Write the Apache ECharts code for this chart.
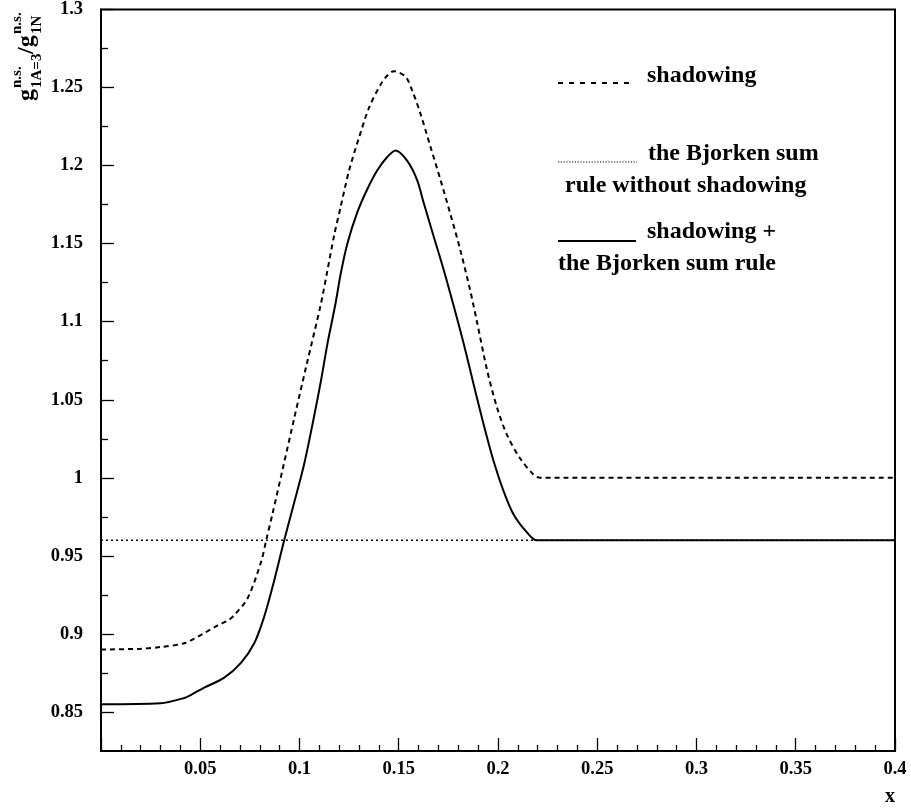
<!DOCTYPE html>
<html><head><meta charset="utf-8">
<script src="https://cdn.jsdelivr.net/npm/echarts@6/dist/echarts.min.js"></script>
<style>html,body{margin:0;padding:0;background:#fff}#c{width:911px;height:810px}</style>
</head><body><div id="c"></div>
<script>
// x values and ratios
var shadowX = [0, 0.02, 0.03, 0.042, 0.047, 0.052, 0.0588, 0.0638, 0.0671, 0.0739, 0.0806, 0.0834, 0.0864, 0.0916, 0.0973, 0.1035, 0.1107, 0.1141, 0.1174, 0.1208, 0.125, 0.130, 0.135, 0.1409, 0.1445, 0.1475, 0.1534, 0.1568, 0.161, 0.166, 0.171, 0.176, 0.181, 0.186, 0.1894, 0.1945, 0.1995, 0.2045, 0.211, 0.2179, 0.2212, 0.4];
var shadowY = [0.890, 0.8905, 0.8916, 0.894, 0.897, 0.9005, 0.9055, 0.9085, 0.912, 0.923, 0.946, 0.961, 0.977, 1.006, 1.038, 1.072, 1.111, 1.133, 1.155, 1.174, 1.197, 1.218, 1.237, 1.252, 1.258, 1.2605, 1.257, 1.248, 1.233, 1.212, 1.191, 1.169, 1.146, 1.120, 1.100, 1.069, 1.045, 1.0276, 1.0127, 1.002, 1.0, 1.0];
var bothX = [0, 0.03, 0.042, 0.0454, 0.052, 0.0621, 0.0705, 0.0772, 0.0822, 0.0864, 0.0923, 0.0973, 0.1023, 0.1065, 0.1107, 0.1141, 0.1182, 0.1208, 0.1241, 0.1291, 0.1342, 0.1392, 0.1442, 0.1484, 0.1543, 0.1593, 0.1626, 0.1676, 0.1727, 0.1777, 0.1827, 0.1877, 0.1928, 0.1978, 0.2028, 0.2078, 0.2146, 0.2196, 0.4];
var bothY = [0.855, 0.8556, 0.859, 0.861, 0.8656, 0.872, 0.8815, 0.894, 0.911, 0.930, 0.960, 0.984, 1.0085, 1.034, 1.0614, 1.086, 1.112, 1.131, 1.150, 1.170, 1.185, 1.197, 1.2055, 1.2097, 1.203, 1.1906, 1.176, 1.1546, 1.133, 1.110, 1.086, 1.060, 1.034, 1.0106, 0.9915, 0.9767, 0.965, 0.96, 0.96];
var bjorkenX = [0, 0.4];
var bjorkenY = [0.96, 0.96];
var yMajor = [0.85, 0.9, 0.95, 1, 1.05, 1.1, 1.15, 1.2, 1.25, 1.3];
var yMinor = [0.875, 0.925, 0.975, 1.025, 1.075, 1.125, 1.175, 1.225, 1.275];
var legendTexts = ['shadowing', 'the Bjorken sum', 'rule without shadowing', 'shadowing +', 'the Bjorken sum rule'];

function pairs(xs, ys) { return xs.map(function (x, i) { return [x, ys[i]]; }); }
var FF = 'Liberation Serif';
var chart = echarts.init(document.getElementById('c'));
var yBase = {
  type: 'value', min: 0.825, max: 1.3, position: 'left',
  splitLine: { show: false }
};
function txt(x, y, s, size) {
  return { type: 'text', x: x, y: y, style: { text: s, font: 'bold ' + size + 'px ' + FF, fill: '#000', textAlign: 'left', textVerticalAlign: 'middle' } };
}
chart.setOption({
  animation: false,
  backgroundColor: '#fff',
  grid: { left: 101, right: 16, top: 5, bottom: 59, show: true, borderColor: '#000', borderWidth: 2 },
  xAxis: {
    type: 'value', min: 0, max: 0.4, interval: 0.05,
    name: 'x', nameLocation: 'end', nameGap: 0,
    nameTextStyle: { fontFamily: FF, fontWeight: 'bold', fontSize: 20, color: '#000', align: 'right', verticalAlign: 'top', padding: [36, 0, 0, 0] },
    axisLine: { lineStyle: { color: '#000', width: 2 } },
    axisTick: { inside: true, length: 13, lineStyle: { color: '#000', width: 1.3 } },
    minorTick: { show: true, splitNumber: 5, length: 6, lineStyle: { color: '#000', width: 1.3 } },
    splitLine: { show: false },
    axisLabel: { margin: 9, fontFamily: FF, fontWeight: 'bold', fontSize: 18.5, color: '#000',
      formatter: function (v) { return v === 0 ? '' : String(+v.toFixed(2)); } }
  },
  yAxis: [
    Object.assign({}, yBase, {
      axisLine: { show: true, lineStyle: { color: '#000', width: 2 } },
      axisTick: { show: true, inside: true, length: 13, customValues: yMajor, lineStyle: { color: '#000', width: 1.3 } },
      axisLabel: { show: true, margin: 18, customValues: yMajor, fontFamily: FF, fontWeight: 'bold', fontSize: 18.5, color: '#000',
        formatter: function (v) { return String(+(+v).toFixed(2)); } }
    }),
    Object.assign({}, yBase, {
      axisLine: { show: false },
      axisTick: { show: true, inside: true, length: 7, customValues: yMinor, lineStyle: { color: '#000', width: 1.3 } },
      axisLabel: { show: false }
    })
  ],
  series: [
    { type: 'line', data: pairs(bjorkenX, bjorkenY), showSymbol: false, lineStyle: { color: '#000', width: 1.5, type: [2, 3] }, z: 2 },
    { type: 'line', data: pairs(shadowX, shadowY), showSymbol: false, smooth: 0.3, lineStyle: { color: '#000', width: 2, type: [5, 4] }, z: 3 },
    { type: 'line', data: pairs(bothX, bothY), showSymbol: false, smooth: 0.3, lineStyle: { color: '#000', width: 2 }, z: 4 }
  ],
  graphic: [
    { type: 'group', x: 0, y: 0, rotation: Math.PI / 2, children: [
      txt(-101, 27, 'g', 24),
      txt(-88, 17, 'n.s.', 15),
      txt(-88, 37, '1A=3', 15),
      txt(-54, 27, '/g', 24),
      txt(-34, 17, 'n.s.', 15),
      txt(-34, 37, '1N', 15)
    ] },
    { type: 'line', shape: { x1: 558, y1: 83, x2: 632, y2: 83 }, style: { stroke: '#000', lineWidth: 2, lineDash: [5, 6] } },
    { type: 'text', x: 647, y: 76, style: { text: legendTexts[0], font: 'bold 24px ' + FF, fill: '#000', textVerticalAlign: 'middle' } },
    { type: 'line', shape: { x1: 558, y1: 162, x2: 637, y2: 162 }, style: { stroke: '#000', lineWidth: 1.2, lineDash: [1.2, 1.6] } },
    { type: 'text', x: 648, y: 154, style: { text: legendTexts[1], font: 'bold 24px ' + FF, fill: '#000', textVerticalAlign: 'middle' } },
    { type: 'text', x: 565, y: 186, style: { text: legendTexts[2], font: 'bold 24px ' + FF, fill: '#000', textVerticalAlign: 'middle' } },
    { type: 'line', shape: { x1: 558, y1: 241, x2: 636, y2: 241 }, style: { stroke: '#000', lineWidth: 2 } },
    { type: 'text', x: 647, y: 232, style: { text: legendTexts[3], font: 'bold 24px ' + FF, fill: '#000', textVerticalAlign: 'middle' } },
    { type: 'text', x: 558, y: 264, style: { text: legendTexts[4], font: 'bold 24px ' + FF, fill: '#000', textVerticalAlign: 'middle' } }
  ]
});
</script></body></html>
